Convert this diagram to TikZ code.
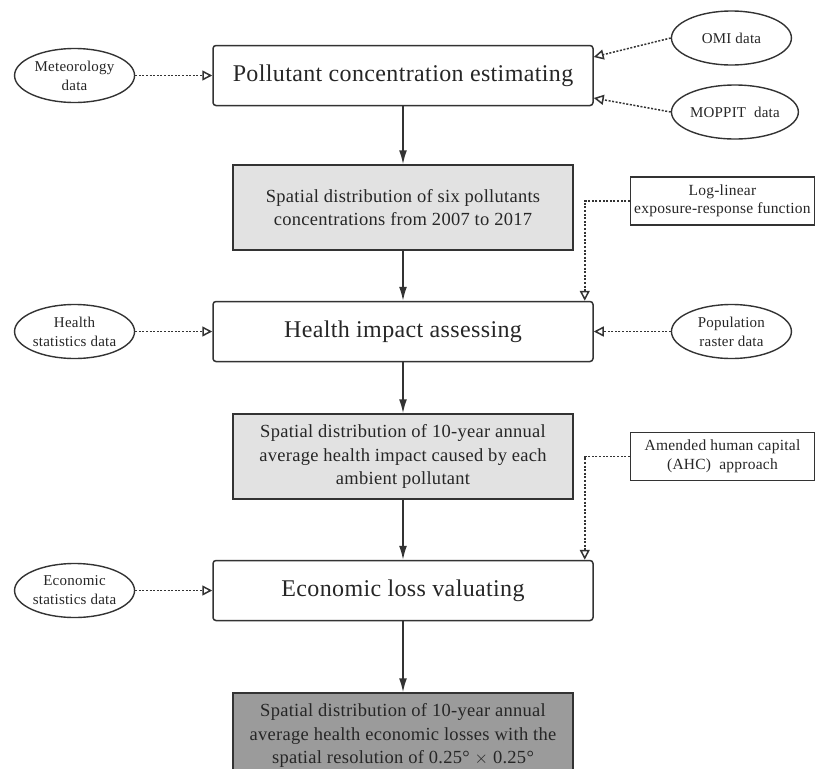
\documentclass[tikz,border=0pt]{standalone}
\usepackage{fontspec}
\setmainfont{Liberation Serif}[LetterSpace=1.5]
\usetikzlibrary{shapes.geometric, arrows.meta, positioning}
\definecolor{linegray}{HTML}{333333}
\definecolor{lightfill}{HTML}{E2E2E2}
\definecolor{darkfill}{HTML}{9B9B9B}
\tikzstyle{process} = [rectangle, rounded corners=3pt, minimum width=380pt, minimum height=60pt, text centered, draw=linegray, line width=1.5pt, font=\fontsize{24}{28}\selectfont]
\tikzstyle{result} = [rectangle, minimum width=340pt, minimum height=85pt, align=center, draw=linegray, line width=1.5pt, fill=lightfill, font=\fontsize{18.5}{23.5}\selectfont]
\tikzstyle{final} = [result, fill=darkfill]
\tikzstyle{dataset} = [ellipse, minimum width=120pt, minimum height=54pt, inner sep=0pt, align=center, draw=linegray, line width=1.4pt, font=\fontsize{15}{19}\selectfont]
\tikzstyle{method} = [rectangle, minimum width=184pt, minimum height=48pt, align=center, draw=linegray, line width=1.4pt, font=\fontsize{15.5}{18.5}\selectfont]
\tikzstyle{arrow} = [line width=1.5pt, linegray, -{Latex[length=14pt,width=8pt]}]
\tikzstyle{feed} = [line width=1.5pt, dash pattern=on 2pt off 1.6pt, linegray, -{Triangle[open,length=10pt,width=10pt]}]

\begin{document}
\begin{tikzpicture}[x=1pt,y=1pt,text=black!85]
\useasboundingbox (0,0) rectangle (823,-769);
\node (pollutant) [process] at (403,-75.5) {Pollutant concentration estimating};
\node (conc) [result, below=58pt of pollutant] {Spatial distribution of six pollutants\\ concentrations from 2007 to 2017};
\node (health) [process, below=50pt of conc] {Health impact assessing};
\node (impact) [result, below=51pt of health] {Spatial distribution of 10-year annual\\ average health impact caused by each\\ ambient pollutant};
\node (economic) [process, below=60pt of impact] {Economic loss valuating};
\node (losses) [final, below=71pt of economic] {Spatial distribution of 10-year annual\\ average health economic losses with the\\ spatial resolution of 0.25\textdegree\ $\times$ 0.25\textdegree};

\node (meteo) [dataset, left=77pt of pollutant] {Meteorology\\ data};
\node (omi) [dataset, right=77pt of pollutant, yshift=37.5pt] {OMI data};
\node (moppit) [dataset, right=77pt of pollutant, yshift=-36.5pt] {MOPPIT\ \ data};
\node (healthdata) [dataset, left=77pt of health] {Health\\ statistics data};
\node (population) [dataset, right=77pt of health] {Population\\ raster data};
\node (econdata) [dataset, left=77pt of economic] {Economic\\ statistics data};

\node (loglinear) [method, right=56pt of conc, yshift=6.5pt] {Log-linear\\ exposure-response function};
\node (ahc) [method, right=56pt of impact] {Amended human capital\\ (AHC)\ \ approach};

\draw [arrow] (pollutant) -- (conc);
\draw [arrow] (conc) -- (health);
\draw [arrow] (health) -- (impact);
\draw [arrow] (impact) -- (economic);
\draw [arrow] (economic) -- (losses);

\draw [feed] (meteo) -- (pollutant);
\draw [feed] (omi.west) -- ([yshift=18.5pt]pollutant.east);
\draw [feed] (moppit.west) -- ([yshift=-22.5pt]pollutant.east);
\draw [feed] (healthdata) -- (health);
\draw [feed] (population) -- (health);
\draw [feed] (econdata) -- (economic);
\draw [feed] (loglinear.west) -| ([xshift=-9pt]health.north east);
\draw [feed] (ahc.west) -| ([xshift=-9pt]economic.north east);
\end{tikzpicture}
\end{document}
